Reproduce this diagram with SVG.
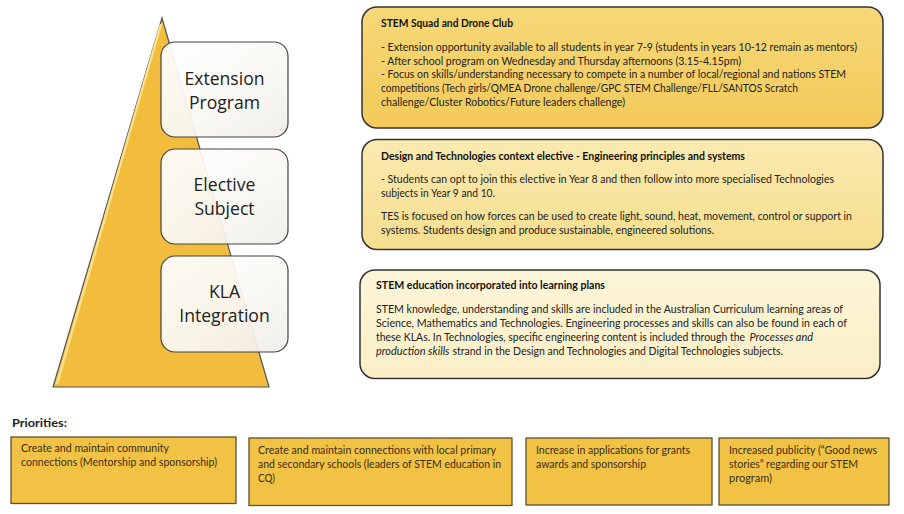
<svg xmlns="http://www.w3.org/2000/svg" width="904" height="514" viewBox="0 0 904 514">
<defs>
<linearGradient id="gLabel" x1="0" y1="0" x2="1" y2="1">
<stop offset="0" stop-color="#FFFFFF"/>
<stop offset="0.55" stop-color="#F9F8F4"/>
<stop offset="1" stop-color="#EFEEE8"/>
</linearGradient>
<linearGradient id="gA" x1="0" y1="0" x2="0" y2="1">
<stop offset="0" stop-color="#F7D878"/>
<stop offset="1" stop-color="#F3CA5A"/>
</linearGradient>
<linearGradient id="gB" x1="0" y1="0" x2="0" y2="1">
<stop offset="0" stop-color="#FAEAB0"/>
<stop offset="1" stop-color="#F6DE8E"/>
</linearGradient>
<linearGradient id="gC" x1="0" y1="0" x2="0" y2="1">
<stop offset="0" stop-color="#FCF5D8"/>
<stop offset="1" stop-color="#FAEFC6"/>
</linearGradient>
</defs>
<style>
.label{font-family:"Open Sans","Noto Sans",sans-serif;font-size:17.6px;fill:#222;text-anchor:middle}
.lbox{fill:url(#gLabel);fill-opacity:0.93;stroke:#444;stroke-width:1.2}
.rbox{stroke:#333;stroke-width:1.5}
.t{font-family:Lato,"Liberation Sans",sans-serif;font-size:10.8px;fill:#222}
.ti{font-style:italic}
.tb{font-family:Lato,"Liberation Sans",sans-serif;font-size:10.8px;fill:#111;font-weight:bold}
.pbox{fill:#F2C244;stroke:#5E5030;stroke-width:1.3}
.p{font-family:Lato,"Liberation Sans",sans-serif;font-size:12px;fill:#3A2F1A}
.ph{font-family:Lato,"Liberation Sans",sans-serif;font-size:12px;font-weight:bold;fill:#222}
</style>
<rect width="904" height="514" fill="#FFFFFF"/>

<g id="pyramid">
<polygon points="162,18 269,387 53,387" fill="#F2BC3C" stroke="#555" stroke-width="1.2"/>
<line x1="161" y1="24" x2="57" y2="384" stroke="#F9E089" stroke-width="2.5"/>
</g>

<g id="node-extension">
<rect class="lbox" x="161" y="42" width="127" height="95" rx="14"/>
<text class="label" x="224.5" y="84.5">Extension</text>
<text class="label" x="224.5" y="108.5">Program</text>
</g>
<g id="node-elective">
<rect class="lbox" x="161" y="149" width="127" height="95" rx="14"/>
<text class="label" x="224.5" y="191">Elective</text>
<text class="label" x="224.5" y="215">Subject</text>
</g>
<g id="node-kla">
<rect class="lbox" x="161" y="256" width="127" height="96" rx="14"/>
<text class="label" x="224.5" y="297.5">KLA</text>
<text class="label" x="224.5" y="321.5">Integration</text>
</g>

<g id="box-stem-squad">
<rect class="rbox" x="362" y="7" width="521" height="121" rx="15" fill="url(#gA)"/>
<text class="tb" x="381" y="27" textLength="132" lengthAdjust="spacingAndGlyphs">STEM Squad and Drone Club</text>
<text class="t" x="381" y="51" textLength="476" lengthAdjust="spacingAndGlyphs">- Extension opportunity available to all students in year 7-9 (students in years 10-12 remain as mentors)</text>
<text class="t" x="381" y="64.5" textLength="360" lengthAdjust="spacingAndGlyphs">- After school program on Wednesday and Thursday afternoons (3.15-4.15pm)</text>
<text class="t" x="381" y="78" textLength="465" lengthAdjust="spacingAndGlyphs">- Focus on skills/understanding necessary to compete in a number of local/regional and nations STEM</text>
<text class="t" x="381" y="92" textLength="417" lengthAdjust="spacingAndGlyphs">competitions (Tech girls/QMEA Drone challenge/GPC STEM Challenge/FLL/SANTOS Scratch</text>
<text class="t" x="381" y="106" textLength="244" lengthAdjust="spacingAndGlyphs">challenge/Cluster Robotics/Future leaders challenge)</text>
</g>

<g id="box-design-tech">
<rect class="rbox" x="362" y="139.5" width="521" height="110" rx="15" fill="url(#gB)"/>
<text class="tb" x="381" y="160" textLength="364" lengthAdjust="spacingAndGlyphs">Design and Technologies context elective - Engineering principles and systems</text>
<text class="t" x="381" y="183" textLength="453" lengthAdjust="spacingAndGlyphs">- Students can opt to join this elective in Year 8 and then follow into more specialised Technologies</text>
<text class="t" x="381" y="197" textLength="114" lengthAdjust="spacingAndGlyphs">subjects in Year 9 and 10.</text>
<text class="t" x="381" y="220" textLength="471" lengthAdjust="spacingAndGlyphs">TES is focused on how forces can be used to create light, sound, heat, movement, control or support in</text>
<text class="t" x="381" y="234" textLength="333" lengthAdjust="spacingAndGlyphs">systems. Students design and produce sustainable, engineered solutions.</text>
</g>

<g id="box-stem-education">
<rect class="rbox" x="360" y="270" width="520" height="108.5" rx="15" fill="url(#gC)"/>
<text class="tb" x="376" y="289" textLength="229" lengthAdjust="spacingAndGlyphs">STEM education incorporated into learning plans</text>
<text class="t" x="376" y="313" textLength="467" lengthAdjust="spacingAndGlyphs">STEM knowledge, understanding and skills are included in the Australian Curriculum learning areas of</text>
<text class="t" x="376" y="327" textLength="471" lengthAdjust="spacingAndGlyphs">Science, Mathematics and Technologies. Engineering processes and skills can also be found in each of</text>
<text class="t" x="376" y="340.5" font-size="10.4" textLength="369" lengthAdjust="spacingAndGlyphs">these KLAs. In Technologies, specific engineering content is included through the</text>
<text class="t ti" x="749.5" y="340.5" textLength="63.5" lengthAdjust="spacingAndGlyphs">Processes and</text>
<text class="t ti" x="376" y="354.5" textLength="73.5" lengthAdjust="spacingAndGlyphs">production skills</text>
<text class="t" x="452.5" y="354.5" textLength="330.5" lengthAdjust="spacingAndGlyphs">strand in the Design and Technologies and Digital Technologies subjects.</text>
</g>

<g id="priorities">
<text class="ph" x="12" y="427" textLength="55" lengthAdjust="spacingAndGlyphs">Priorities:</text>
</g>
<g id="priority-1">
<rect class="pbox" x="11" y="437" width="225" height="66.5"/>
<text class="p" x="21" y="452" textLength="148" lengthAdjust="spacingAndGlyphs">Create and maintain community</text>
<text class="p" x="21" y="466" textLength="196" lengthAdjust="spacingAndGlyphs">connections (Mentorship and sponsorship)</text>
</g>
<g id="priority-2">
<rect class="pbox" x="249" y="438" width="263" height="67.5"/>
<text class="p" x="258" y="454" textLength="238" lengthAdjust="spacingAndGlyphs">Create and maintain connections with local primary</text>
<text class="p" x="258" y="468" textLength="243" lengthAdjust="spacingAndGlyphs">and secondary schools (leaders of STEM education in</text>
<text class="p" x="258" y="482" textLength="17" lengthAdjust="spacingAndGlyphs">CQ)</text>
</g>
<g id="priority-3">
<rect class="pbox" x="526" y="438" width="186" height="67"/>
<text class="p" x="536" y="454" textLength="154" lengthAdjust="spacingAndGlyphs">Increase in applications for grants</text>
<text class="p" x="536" y="468" textLength="110" lengthAdjust="spacingAndGlyphs">awards and sponsorship</text>
</g>
<g id="priority-4">
<rect class="pbox" x="719" y="438" width="170" height="67"/>
<text class="p" x="729" y="454" textLength="148" lengthAdjust="spacingAndGlyphs">Increased publicity (“Good news</text>
<text class="p" x="729" y="468" textLength="129" lengthAdjust="spacingAndGlyphs">stories” regarding our STEM</text>
<text class="p" x="729" y="482" textLength="43" lengthAdjust="spacingAndGlyphs">program)</text>
</g>

<g id="connectors"></g>
</svg>
